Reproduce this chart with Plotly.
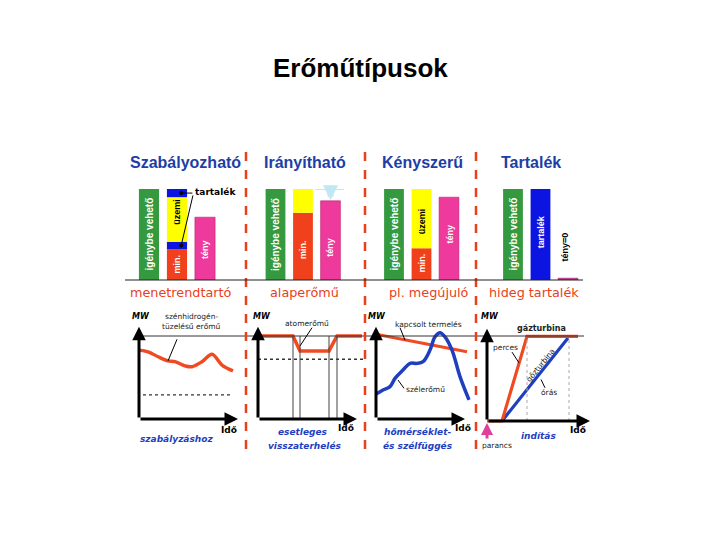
import plotly.graph_objects as go

W, H = 720, 540
OFF = 8  # page body margin


def fx(px):
    return (px - OFF) / W


def fy(py):
    return 1 - (py - OFF) / H


# ---------------- data ----------------
title = "Erőműtípusok"
headings = ["Szabályozható", "Irányítható", "Kényszerű", "Tartalék"]
roles = ["menetrendtartó", "alaperőmű", "pl. megújuló", "hideg tartalék"]
bottom_notes = [["szabályzáshoz"], ["esetleges", "visszaterhelés"],
                ["hőmérséklet-", "és szélfüggés"], ["indítás"]]

# top bar panels (share of capacity, %)
igenybe = [100, 100, 100, 100]
p1_segments = ["min.", "tartalék", "üzemi", "tartalék"]
p1_values = [34, 8, 49, 9]
p1_teny = 69
p2_segments = ["min.", "üzemi"]
p2_values = [74, 26]
p2_teny = 87
p3_segments = ["min.", "üzemi"]
p3_values = [35, 65]
p3_teny = 91
p4_tartalek = 100
p4_teny = 2

# bottom time charts (time units, MW %)
b1_t = [0, 0.9, 1.9, 2.9, 3.6, 4.6, 5.3, 6.3, 7.3, 8.3, 9.4]
b1_mw = [83, 81, 75, 70, 69, 64, 63, 69, 78, 65, 58]
b1_min_t = [0.4, 9.4]
b1_min_mw = [29, 29]

b2_t = [0, 3.5, 4.2, 7.1, 7.9, 10.4]
b2_mw = [100, 100, 82, 82, 100, 100]
b2_min_t = [0, 10.5]
b2_min_mw = [72, 72]
b2_marks = [3.5, 4.2, 7.1, 7.9]

b3_kapcs_t = [0, 9.1]
b3_kapcs_mw = [102, 81]
b3_szel_t = [0, 0.7, 1.4, 1.9, 2.7, 3.4, 4.1, 4.7, 5.4, 5.9, 6.4, 6.9, 7.6, 8.4, 9.3]
b3_szel_mw = [30, 35, 39, 49, 59, 67, 67, 69, 83, 99, 104, 99, 83, 51, 23]

b4_gaz_t = [0, 1.5, 4.0, 9.1]
b4_gaz_mw = [0, 0, 102, 102]
b4_goz_t = [1.5, 8.1]
b4_goz_mw = [0, 100]
b4_marks = [4.0, 8.2]

# ---------------- styles ----------------
GREEN = "#34993f"
RED = "#f0401c"
YELLOW = "#ffff00"
BLUE = "#0b14e0"
PINK = "#ee3a9c"
HEAD = "#1d3ea6"
ROLE = "#e8401c"
LINE_RED = "#f04a22"
LINE_BLUE = "#1f3fbf"
NOTE_BLUE = "#1f3fbf"
SEG_COLORS = {"min.": RED, "tartalék": BLUE, "üzemi": YELLOW}

fig = go.Figure()
layout = {}
annotations = []
shapes = []


def txt(px, py, s, size=8, color="#222", bold=False, italic=False, angle=0,
        family="DejaVu Sans", xanchor="center"):
    if bold:
        s = f"<b>{s}</b>"
    if italic:
        s = f"<i>{s}</i>"
    annotations.append(dict(x=fx(px), y=fy(py), xref="paper", yref="paper", text=s,
                            showarrow=False, font=dict(size=size, color=color, family=family),
                            textangle=angle, xanchor=xanchor, yanchor="middle"))


def axis_pair(i, xdom, ydom, xr, yr):
    sfx = "" if i == 1 else str(i)
    layout["xaxis" + sfx] = dict(domain=[fx(xdom[0]), fx(xdom[1])], range=xr, visible=False,
                                 fixedrange=True, anchor="y" + sfx)
    layout["yaxis" + sfx] = dict(domain=[fy(ydom[0]), fy(ydom[1])], range=yr, visible=False,
                                 fixedrange=True, anchor="x" + sfx)
    return ("x" + sfx, "y" + sfx)


# ---------- top panels ----------
TOP_Y = (280, 189)
top_starts = [(135, 28), (261.75, 27.5), (380.25, 27.5), (499.25, 27.5)]
top_axes = []
for i, (x0, unit) in enumerate(top_starts):
    top_axes.append(axis_pair(i + 1, (x0, x0 + 3 * unit), TOP_Y, [-0.5, 2.5], [0, 100]))

BW = 0.72


def bar(ax, x, val, base, color, line=None):
    fig.add_trace(go.Bar(x=[x], y=[val], base=[base], width=BW, marker_color=color,
                         marker_line=dict(width=0.6 if line else 0, color=line or color),
                         xaxis=ax[0], yaxis=ax[1], hoverinfo="skip", showlegend=False))


def vlabel(ax, x, y, s, color="white", size=9):
    annotations.append(dict(x=x, y=y, xref=ax[0], yref=ax[1], text=f"<b>{s}</b>",
                            showarrow=False, textangle=-90,
                            font=dict(size=size, color=color, family="Liberation Sans")))


# green "igénybe vehető" bars
for i, ax in enumerate(top_axes):
    bar(ax, 0, igenybe[i], 0, GREEN)
    vlabel(ax, 0, 50, "igénybe vehető", size=10)

# panel 1
base = 0
for name, v in zip(p1_segments, p1_values):
    bar(top_axes[0], 1, v, base, SEG_COLORS[name])
    base += v
bar(top_axes[0], 2, p1_teny, 0, PINK, "#c02070")
vlabel(top_axes[0], 1, 17, "min.")
vlabel(top_axes[0], 1, 75, "üzemi", color="black")
vlabel(top_axes[0], 2, 33, "tény")
lo_c = p1_values[0] + p1_values[1] / 2
hi_c = sum(p1_values[:3]) + p1_values[3] / 2
fig.add_trace(go.Scatter(x=[1.15, 1.15], y=[lo_c, hi_c], mode="markers",
                         marker=dict(size=4, color="black"), xaxis="x", yaxis="y",
                         hoverinfo="skip", showlegend=False))
shapes.append(dict(type="line", xref="x", yref="y", x0=1.15, y0=lo_c, x1=1.57, y1=93,
                   line=dict(color="black", width=1)))
shapes.append(dict(type="line", xref="x", yref="y", x0=1.15, y0=hi_c, x1=1.55, y1=hi_c,
                   line=dict(color="black", width=1)))
annotations.append(dict(x=1.57, y=hi_c + 1, xref="x", yref="y", text="<b>tartalék</b>",
                        showarrow=False, xanchor="left",
                        font=dict(size=9, color="black", family="DejaVu Sans")))

# panel 2
base = 0
for name, v in zip(p2_segments, p2_values):
    bar(top_axes[1], 1, v, base, SEG_COLORS[name])
    base += v
bar(top_axes[1], 2, p2_teny, 0, PINK, "#c02070")
vlabel(top_axes[1], 1, 33, "min.")
vlabel(top_axes[1], 2, 36, "tény")
shapes.append(dict(type="line", xref="x2", yref="y2", x0=1.45, y0=100, x1=2.5, y1=100,
                   line=dict(color="#bbbbbb", width=1)))
annotations.append(dict(x=2, y=p2_teny + 0.5, xref="x2", yref="y2", ax=2, ay=100,
                        axref="x2", ayref="y2", showarrow=True, arrowhead=2, arrowsize=0.5,
                        arrowwidth=6, arrowcolor="#bfe8f4", text=""))

# panel 3
base = 0
for name, v in zip(p3_segments, p3_values):
    bar(top_axes[2], 1, v, base, SEG_COLORS[name])
    base += v
bar(top_axes[2], 2, p3_teny, 0, PINK, "#c02070")
vlabel(top_axes[2], 1, 19, "min.")
vlabel(top_axes[2], 1, 64, "üzemi", color="black")
vlabel(top_axes[2], 2, 50, "tény")

# panel 4
bar(top_axes[3], 1, p4_tartalek, 0, BLUE)
bar(top_axes[3], 2, p4_teny, 0, "#c8308a", "#a02070")
vlabel(top_axes[3], 1, 53, "tartalék")
vlabel(top_axes[3], 1.9, 36, "tény=0", color="black", size=9)

# ---------- bottom panels ----------
XS, YS = 10.0, 0.83  # px per unit
origins = [(139, 419), (258, 419), (376, 419), (487, 421)]
xmax = [10.7, 11.0, 9.6, 10.5]
x_end = [9.9, 9.9, 8.9, 10.3]
bot_axes = []
for k, ((ox, oy), rx) in enumerate(zip(origins, xmax)):
    ax = axis_pair(5 + k, (ox - XS, ox + rx * XS), (oy + 10 * YS, oy - 130 * YS),
                   [-1, rx], [-10, 130])
    bot_axes.append(ax)
    for (tx, ty) in [(x_end[k], 0), (0, 111)]:
        annotations.append(dict(x=tx, y=ty, ax=0, ay=0, xref=ax[0], yref=ax[1],
                                axref=ax[0], ayref=ax[1], showarrow=True, arrowhead=2,
                                arrowsize=0.9, arrowwidth=3, arrowcolor="black", text=""))


def line(ax, xs, ys, color, width, shape="linear", dash="solid"):
    fig.add_trace(go.Scatter(x=xs, y=ys, mode="lines", xaxis=ax[0], yaxis=ax[1],
                             line=dict(color=color, width=width, shape=shape, dash=dash),
                             hoverinfo="skip", showlegend=False))


def seg(ax, x0, y0, x1, y1, color="black", width=1, dash="solid"):
    shapes.append(dict(type="line", xref=ax[0], yref=ax[1], x0=x0, y0=y0, x1=x1, y1=y1,
                       line=dict(color=color, width=width, dash=dash)))


shapes.append(dict(type="line", xref="paper", yref="paper", x0=fx(139), x1=fx(584),
                   y0=fy(336), y1=fy(336), line=dict(color="#333", width=1)))

# B1
a = bot_axes[0]
line(a, b1_min_t, b1_min_mw, "#333", 1.3, dash="dot")
line(a, b1_t, b1_mw, LINE_RED, 3.4, shape="spline")
seg(a, 3.8, 96, 2.9, 70)

# B2
a = bot_axes[1]
for m in b2_marks:
    seg(a, m, 0, m, 100, "#444", 1)
line(a, b2_min_t, b2_min_mw, "#333", 1.3, dash="dot")
line(a, b2_t, b2_mw, LINE_RED, 3.5)
seg(a, 5.4, 110, 4.2, 88)

# B3
a = bot_axes[2]
line(a, b3_kapcs_t, b3_kapcs_mw, LINE_RED, 3)
line(a, b3_szel_t, b3_szel_mw, LINE_BLUE, 3.5, shape="spline")
seg(a, 2.4, 110, 2.9, 95)
seg(a, 2.2, 47, 2.8, 37)

# B4
a = bot_axes[3]
for m in b4_marks:
    seg(a, m, 0, m, 100, "#aaaaaa", 1, "dot")
line(a, b4_goz_t, b4_goz_mw, LINE_BLUE, 3.2)
line(a, b4_gaz_t, b4_gaz_mw, LINE_RED, 3.2)
seg(a, 2.5, 83, 3.2, 70)
seg(a, 5.4, 50, 5.8, 40)

# ---------- separators, baseline ----------
for sx in [246, 365, 476]:
    shapes.append(dict(type="line", xref="paper", yref="paper", x0=fx(sx), x1=fx(sx),
                       y0=fy(152), y1=fy(455), line=dict(color=ROLE, width=2.5, dash="dash")))
shapes.append(dict(type="line", xref="paper", yref="paper", x0=fx(125), x1=fx(583),
                   y0=fy(280), y1=fy(280), line=dict(color="#222", width=1.2)))

# ---------- texts ----------
txt(360, 68, title, size=26, color="black", bold=True, family="Liberation Sans")
for s, cx in zip(headings, [185, 305, 423, 531]):
    txt(cx, 162, s, size=16, color=HEAD, bold=True, family="Liberation Sans")
for s, cx in zip(roles, [181, 304, 429, 534]):
    txt(cx, 292, s, size=12.8, color=ROLE)

for mwx in [141, 262, 377, 490]:
    txt(mwx, 316, "MW", size=8, color="black", bold=True, italic=True)
for ix, iy in [(229, 430), (346, 428), (463, 428), (578, 430)]:
    txt(ix, iy, "Idő", size=9, color="black", bold=True)

note_pos = [[(176, 439)], [(303, 432), (305, 446)], [(417, 432), (418, 446)], [(538, 436)]]
for lines_, poss in zip(bottom_notes, note_pos):
    for s, (px, py) in zip(lines_, poss):
        txt(px, py, s, size=9, color=NOTE_BLUE, bold=True, italic=True)

txt(191, 316, "szénhidrogén-", size=7.5)
txt(191, 326, "tüzelésű erőmű", size=7.5)
txt(307, 323, "atomerőmű", size=7.5)
txt(428, 324, "kapcsolt termelés", size=7.5)
txt(425, 389, "szélerőmű", size=7.5)
txt(541, 328, "gázturbina", size=8, bold=True)
txt(505, 347, "perces", size=7.5)
txt(540, 365, "gőzturbina", size=7.5, angle=-51)
txt(549, 392, "órás", size=7.5)
txt(497, 445, "parancs", size=7.5)

annotations.append(dict(x=fx(487), y=fy(423), xref="paper", yref="paper", ax=0, ay=17,
                        showarrow=True, arrowhead=2, arrowsize=0.8, arrowwidth=3,
                        arrowcolor="#e0409a", text=""))

layout.update(dict(width=W, height=H, margin=dict(l=0, r=0, t=0, b=0),
                   paper_bgcolor="white", plot_bgcolor="rgba(0,0,0,0)",
                   barmode="overlay", showlegend=False, annotations=annotations,
                   shapes=shapes, hovermode=False))
fig.update_layout(**layout)
fig.write_html("out.html")
